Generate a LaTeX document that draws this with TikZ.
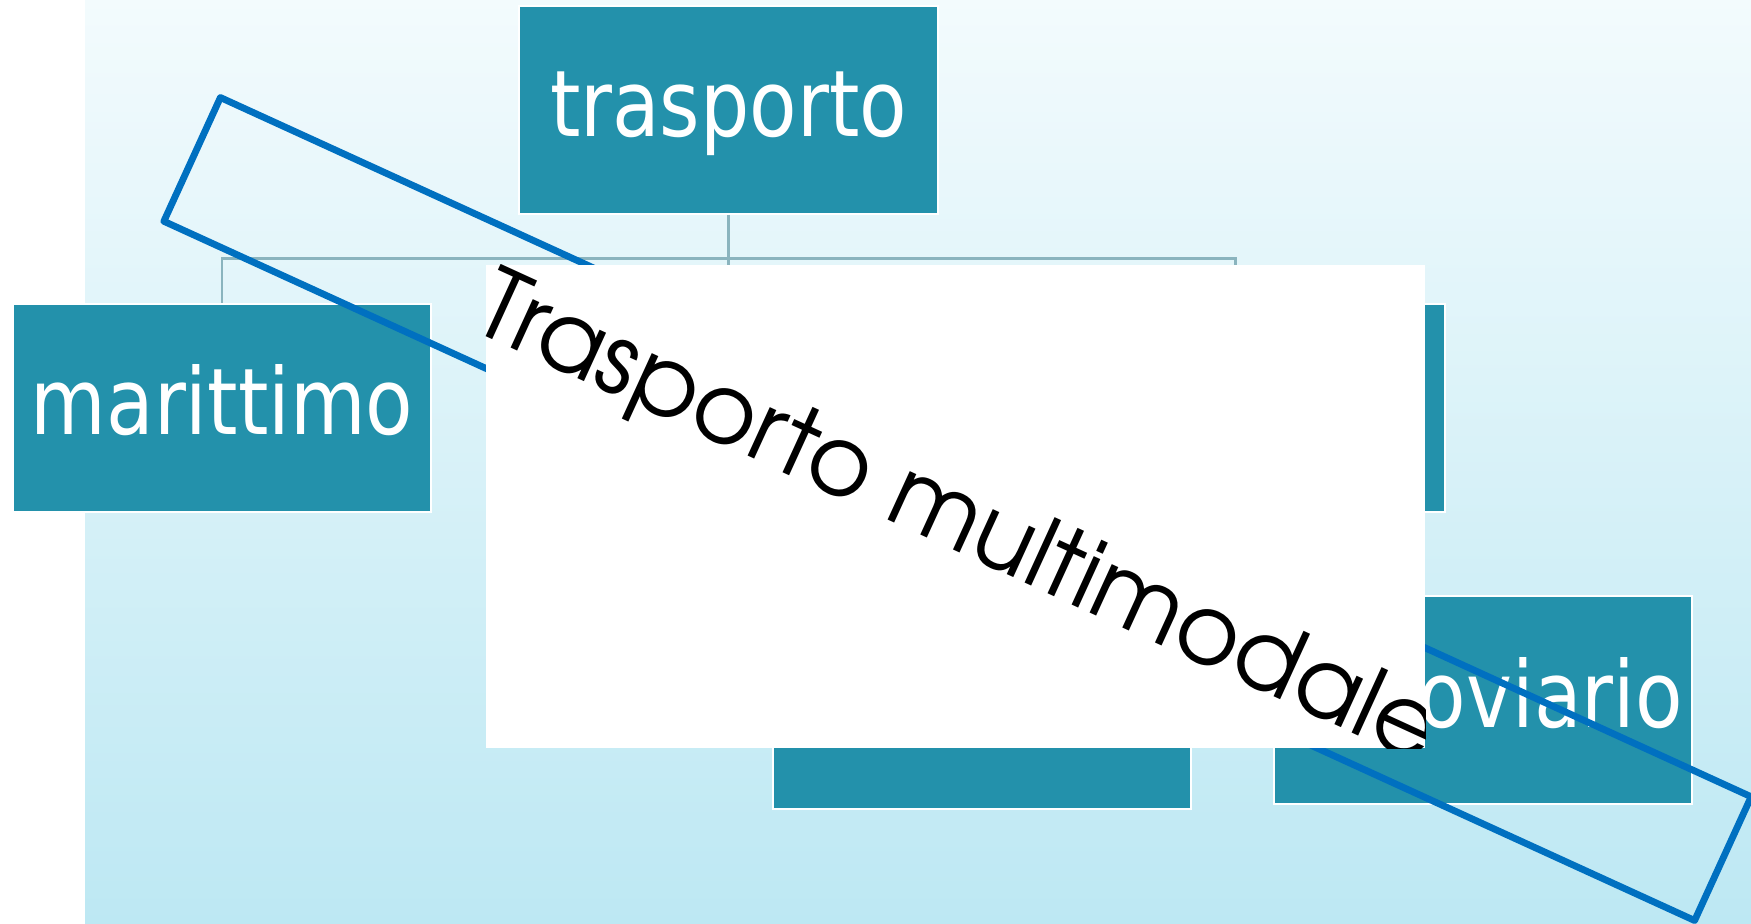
\documentclass[tikz,border=0pt]{standalone}
\usepackage{fontspec}
\newfontfamily\boxfont[FakeStretch=0.843]{DejaVu Sans}
\newfontfamily\gothic{texgyreadventor-regular.otf}
\definecolor{boxteal}{HTML}{2391AB}
\definecolor{bgtop}{HTML}{F3FBFD}
\definecolor{bgbot}{HTML}{BDE8F3}
\definecolor{conncol}{HTML}{8AB4BE}
\definecolor{frameblue}{HTML}{0070C0}
\tikzset{
  box/.style={fill=boxteal, draw=white, line width=0.02cm, minimum width=4.18cm,
    minimum height=2.08cm, inner sep=0pt, text=white,
    font=\boxfont\fontsize{26.2}{26}\selectfont, text height=0.73cm, text depth=0.19cm},
  conn/.style={draw=conncol, line width=0.028cm},
  bluerect/.style={draw=frameblue, line width=0.068cm, line join=round, inner sep=0pt, outer sep=0pt},
  whitebox/.style={fill=white, inner sep=0pt, outer sep=0pt}
}
\begin{document}
\begin{tikzpicture}[x=0.01cm,y=-0.01cm]
\useasboundingbox (0,0) rectangle (1751,923);
\fill[white] (0,0) rectangle (1751,923);
\shade[top color=bgtop, bottom color=bgbot] (85,0) rectangle (1751,923);

\node[box] (trasporto) at (728.6,109.9) {trasporto};
\node[box] (marittimo) at (222,407.7) {marittimo};
\node[box] (midtop) at (728.6,407.7) {};
\node[box] (righttop) at (1235.5,407.7) {};
\node[box] (botleft) at (982,704.5) {};
\node[box] (ferroviario) at (1482.8,700) {ferroviario};

\coordinate (bus) at (728.6,258.3);
\draw[conn] (trasporto.south) -- (bus);
\draw[conn] (bus) -| (marittimo.north);
\draw[conn] (bus) -| (righttop.north);
\draw[conn] (bus) -- (midtop.north);

\node[bluerect, rotate=-24.55, minimum width=16.82cm, minimum height=1.36cm] (frame) at (957.5,509) {};

\node[whitebox, minimum width=9.39cm, minimum height=4.83cm] (textbox) at (955.5,506.5) {};
\begin{scope}
\clip (textbox.north west) rectangle (textbox.south east);
\node[rotate=-24.6, anchor=base west, inner sep=0pt, font=\gothic\fontsize{27.7}{28}\selectfont] (title) at (470,329) {Trasporto multimodale};
\end{scope}
\end{tikzpicture}
\end{document}
